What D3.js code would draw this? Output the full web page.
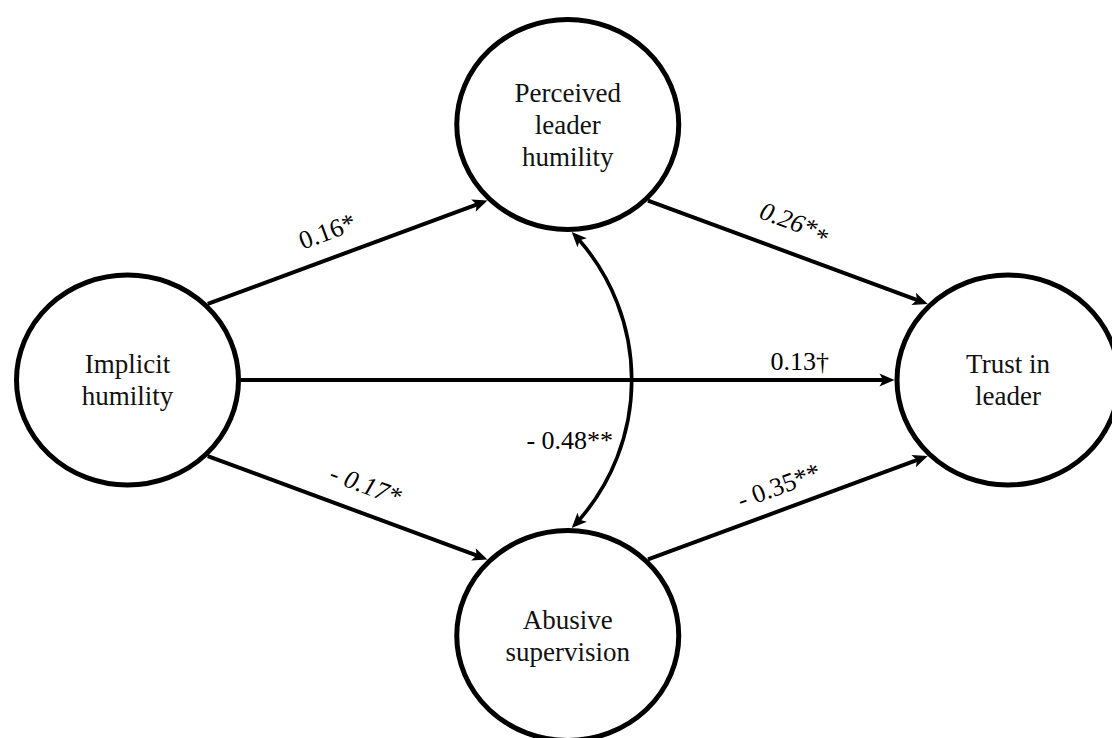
<!DOCTYPE html>
<html>
<head>
<meta charset="utf-8">
<script src="https://cdn.jsdelivr.net/npm/d3@7"></script>
<style>
  html, body { margin: 0; padding: 0; background: #fff; }
  svg { display: block; }
</style>
</head>
<body>
<svg id="chart" width="1112" height="738"></svg>
<script>
// ---- data ----
const nodeLabels = [
  ["Implicit", "humility"],
  ["Perceived", "leader", "humility"],
  ["Trust in", "leader"],
  ["Abusive", "supervision"]
];
const nodeCol = [0, 1, 2, 1];
const nodeRow = [1, 0, 1, 2];

const pathFrom = [0, 1, 0, 0, 3];
const pathTo   = [1, 2, 2, 3, 2];
const pathCoef = ["0.16*", "0.26*", "0.13\u2020", "- 0.17*", "- 0.35**"];
const pathExtra = ["", "*", "", "", ""];   // trailing lowered star on 0.26**

const corrPair = [1, 3];
const corrCoef = "- 0.48**";

// ---- layout / style ----
const RX = 111, RY = 105, SW = 5, LW = 4, AW = 3.6;
const OUTX = 113.5, OUTY = 107.5;
const x = d3.scaleLinear().domain([0, 2]).range([127.5, 1008]);
const y = d3.scaleLinear().domain([0, 2]).range([124.5, 635.5]);

const portFrom = [-45, 45, 0, 45, -45];
const portTo   = [135, -135, 180, -135, 135];
const labelT   = [0.46, 0.486, 0.855, 0.53, 0.497];
const labelOff = [18, 22, 10, 19, 15];
const labelItalic = [false, true, false, true, false];

const svg = d3.select("#chart");
const font = "'Liberation Serif', 'Times New Roman', serif";

function port(n, deg) {
  const a = deg * Math.PI / 180;
  return [x(nodeCol[n]) + OUTX * Math.cos(a), y(nodeRow[n]) + OUTY * Math.sin(a)];
}
function arrowHead(tip, ang) {
  svg.append("path")
    .attr("d", "M0,0 L-15,-6.5 L-11.5,0 L-15,6.5 Z")
    .attr("fill", "#000")
    .attr("transform", `translate(${tip[0]},${tip[1]}) rotate(${ang * 180 / Math.PI})`);
}

// straight paths
pathFrom.forEach((f, i) => {
  const p0 = port(f, portFrom[i]);
  const p1 = port(pathTo[i], portTo[i]);
  const dx = p1[0] - p0[0], dy = p1[1] - p0[1];
  const L = Math.hypot(dx, dy), ux = dx / L, uy = dy / L;
  const ang = Math.atan2(dy, dx);
  svg.append("line")
    .attr("x1", p0[0]).attr("y1", p0[1])
    .attr("x2", p1[0] - ux * 11).attr("y2", p1[1] - uy * 11)
    .attr("stroke", "#000").attr("stroke-width", LW);
  arrowHead(p1, ang);
  const t = labelT[i];
  const lx = p0[0] + dx * t + uy * labelOff[i];
  const ly = p0[1] + dy * t - ux * labelOff[i];
  const txt = svg.append("text")
    .attr("transform", `translate(${lx},${ly}) rotate(${ang * 180 / Math.PI})`)
    .attr("text-anchor", "middle")
    .attr("font-family", font)
    .attr("font-size", 26)
    .attr("font-style", labelItalic[i] ? "italic" : "normal")
    .attr("fill", "#000");
  txt.append("tspan").text(pathCoef[i]);
  if (pathExtra[i]) txt.append("tspan").attr("dy", 5).text(pathExtra[i]);
});

// curved correlation
(function () {
  const p0 = port(corrPair[0], 88);
  const p1 = port(corrPair[1], -88);
  const s = 60;
  const c = Math.hypot(p1[0] - p0[0], p1[1] - p0[1]);
  const R = (c * c / 4 + s * s) / (2 * s);
  const mx = (p0[0] + p1[0]) / 2, my = (p0[1] + p1[1]) / 2;
  const cx = mx + s - R, cy = my;
  const a0 = Math.atan2(p0[1] - cy, p0[0] - cx);
  const a1 = Math.atan2(p1[1] - cy, p1[0] - cx);
  const d = 11 / R;
  const pth = d3.path();
  pth.arc(cx, cy, R, a0 + d, a1 - d, false);
  svg.append("path").attr("d", pth.toString())
    .attr("fill", "none").attr("stroke", "#000").attr("stroke-width", AW);
  arrowHead(p0, a0 - Math.PI / 2);
  arrowHead(p1, a1 + Math.PI / 2);
  const la = 0.285;
  svg.append("text")
    .attr("x", cx + R * Math.cos(la) - 10)
    .attr("y", cy + R * Math.sin(la) + 9)
    .attr("text-anchor", "end")
    .attr("font-family", font)
    .attr("font-size", 26)
    .attr("fill", "#000")
    .text(corrCoef);
})();

// nodes
const g = svg.selectAll("g.node").data(nodeLabels).enter().append("g")
  .attr("class", "node")
  .attr("transform", (d, i) => `translate(${x(nodeCol[i])},${y(nodeRow[i])})`);
g.append("ellipse").attr("rx", RX).attr("ry", RY)
  .attr("fill", "#fff").attr("stroke", "#000").attr("stroke-width", SW);
g.each(function (lines) {
  const t = d3.select(this).append("text")
    .attr("text-anchor", "middle")
    .attr("font-family", font)
    .attr("font-size", 27)
    .attr("fill", "#111");
  lines.forEach((ln, j) => {
    t.append("tspan").attr("x", 0)
      .attr("y", (j - (lines.length - 1) / 2) * 32 + 9)
      .text(ln);
  });
});
</script>
</body>
</html>
